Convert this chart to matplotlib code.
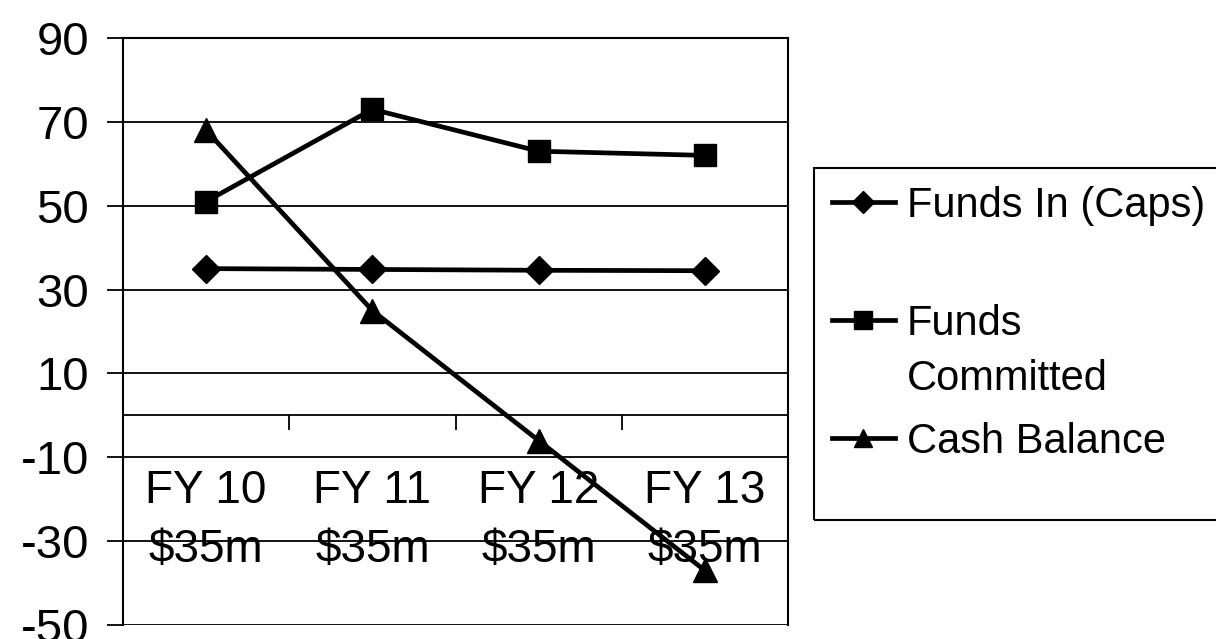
import matplotlib
matplotlib.use("Agg")
import matplotlib.pyplot as plt
from matplotlib.patches import Rectangle

plt.rcParams['font.family'] = ['Liberation Sans', 'DejaVu Sans']

categories = ['FY 10', 'FY 11', 'FY 12', 'FY 13']
caps_labels = ['\\$35m', '\\$35m', '\\$35m', '\\$35m']
funds_in = [35, 34.8, 34.6, 34.5]
funds_committed = [51, 73, 63, 62]
cash_balance = [68, 25, -6, -37]
y_ticks = [-50, -30, -10, 10, 30, 50, 70, 90]

W, H = 1216, 639
fig = plt.figure(figsize=(W / 100, H / 100), dpi=100)
ax = fig.add_axes([123 / W, 1 - 625 / H, (788 - 123) / W, (625 - 38) / H])

x = list(range(len(categories)))
lw = 3.4
ax.plot(x, funds_in, color='black', lw=lw, marker='D', ms=14, label='Funds In (Caps)', zorder=4, clip_on=False)
ax.plot(x, funds_committed, color='black', lw=lw, marker='s', ms=16, label='Funds', zorder=4, clip_on=False)
ax.plot(x, cash_balance, color='black', lw=lw, marker='^', ms=17, label='Cash Balance', zorder=4, clip_on=False)

ax.set_xlim(-0.5, 3.5)
ax.set_ylim(-50, 90)
ax.set_yticks(y_ticks)
ax.set_yticklabels([str(v) for v in y_ticks], fontsize=34)
ax.tick_params(axis='y', direction='out', length=11.5, width=1.3, pad=13)
ax.yaxis.grid(True, color='black', lw=1.3)
ax.set_axisbelow(True)

# x axis at zero with category-boundary ticks
ax.spines['bottom'].set_position(('data', 0))
ax.spines['bottom'].set_linewidth(1.3)
ax.set_xticks([0.5, 1.5, 2.5])
ax.set_xticklabels([])
ax.tick_params(axis='x', direction='out', length=11, width=1.3)
for s in ['left', 'right', 'top']:
    ax.spines[s].set_linewidth(1.5)

for i, (c, m) in enumerate(zip(categories, caps_labels)):
    ax.text(i, -21, c, ha='center', va='baseline', fontsize=33, zorder=2)
    ax.text(i, -35, m, ha='center', va='baseline', fontsize=33, zorder=2)

leg = ax.legend(loc='upper left', bbox_to_anchor=(832 / W, 1 - 186 / H),
                bbox_transform=fig.transFigure, frameon=False, fontsize=30,
                handlelength=1.5, handletextpad=0.3, labelspacing=1.87,
                borderpad=0, borderaxespad=0, markerscale=0.8)
fig.text(907 / W, 1 - 390 / H, 'Committed', fontsize=30, va='baseline', ha='left')
fig.add_artist(Rectangle((814 / W, 1 - 520 / H), (1240 - 814) / W, (520 - 168) / H,
                         transform=fig.transFigure, fill=False, lw=1.5, ec='black'))

fig.savefig('out.png', dpi=100)
